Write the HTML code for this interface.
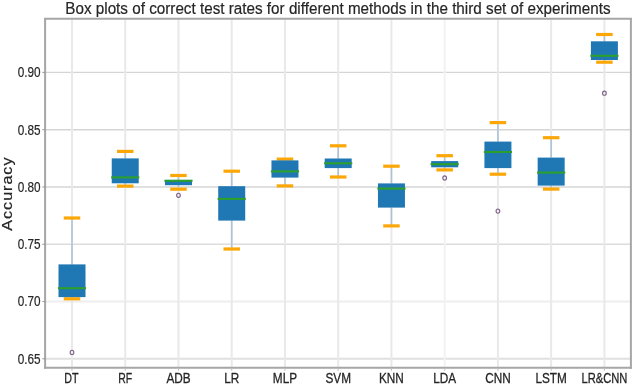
<!DOCTYPE html>
<html><head><meta charset="utf-8"><style>
html,body{margin:0;padding:0;background:#fff;width:633px;height:386px;overflow:hidden}
svg{display:block;will-change:transform}
text{font-family:"Liberation Sans",sans-serif;fill:#262626;stroke:#262626;stroke-width:0.2px}
</style></head><body>
<svg width="633" height="386" viewBox="0 0 633 386">
<rect width="633" height="386" fill="#fff"/>
<line x1="45.4" y1="358.80" x2="630.4" y2="358.80" stroke="#e0e0e0" stroke-width="2.0"/>
<line x1="45.4" y1="301.52" x2="630.4" y2="301.52" stroke="#eeeeee" stroke-width="1.8"/>
<line x1="45.4" y1="244.24" x2="630.4" y2="244.24" stroke="#dcdcdc" stroke-width="1.6"/>
<line x1="45.4" y1="186.96" x2="630.4" y2="186.96" stroke="#e0e0e0" stroke-width="2.0"/>
<line x1="45.4" y1="129.68" x2="630.4" y2="129.68" stroke="#d5d5d5" stroke-width="1.4"/>
<line x1="45.4" y1="72.40" x2="630.4" y2="72.40" stroke="#d5d5d5" stroke-width="1.4"/>
<line x1="72.00" y1="18.8" x2="72.00" y2="367.8" stroke="#e9e9e9" stroke-width="2.0"/>
<line x1="125.24" y1="18.8" x2="125.24" y2="367.8" stroke="#e9e9e9" stroke-width="2.0"/>
<line x1="178.48" y1="18.8" x2="178.48" y2="367.8" stroke="#e9e9e9" stroke-width="2.0"/>
<line x1="231.72" y1="18.8" x2="231.72" y2="367.8" stroke="#e9e9e9" stroke-width="2.0"/>
<line x1="284.96" y1="18.8" x2="284.96" y2="367.8" stroke="#e9e9e9" stroke-width="2.0"/>
<line x1="338.20" y1="18.8" x2="338.20" y2="367.8" stroke="#e9e9e9" stroke-width="2.0"/>
<line x1="391.44" y1="18.8" x2="391.44" y2="367.8" stroke="#e9e9e9" stroke-width="2.0"/>
<line x1="444.68" y1="18.8" x2="444.68" y2="367.8" stroke="#f2f2f2" stroke-width="2.0"/>
<line x1="497.92" y1="18.8" x2="497.92" y2="367.8" stroke="#e9e9e9" stroke-width="2.0"/>
<line x1="551.16" y1="18.8" x2="551.16" y2="367.8" stroke="#e9e9e9" stroke-width="2.0"/>
<line x1="604.40" y1="18.8" x2="604.40" y2="367.8" stroke="#e9e9e9" stroke-width="2.0"/>
<line x1="72.00" y1="218.00" x2="72.00" y2="264.40" stroke="#aec3d7" stroke-width="1.6"/>
<line x1="72.00" y1="297.10" x2="72.00" y2="298.80" stroke="#aec3d7" stroke-width="1.6"/>
<line x1="65.35" y1="218.00" x2="78.65" y2="218.00" stroke="#fca708" stroke-width="3.2" stroke-linecap="square"/>
<line x1="65.35" y1="298.80" x2="78.65" y2="298.80" stroke="#fca708" stroke-width="3.2" stroke-linecap="square"/>
<rect x="58.50" y="264.40" width="27.0" height="32.70" fill="#1f77b4"/>
<line x1="57.90" y1="288.20" x2="86.10" y2="288.20" stroke="#2ca02c" stroke-width="2.1"/>
<ellipse cx="72.00" cy="352.40" rx="1.85" ry="2.1" fill="#f3ecf3" stroke="#7a6485" stroke-width="1.1"/>
<line x1="125.24" y1="151.40" x2="125.24" y2="158.40" stroke="#aec3d7" stroke-width="1.6"/>
<line x1="125.24" y1="183.30" x2="125.24" y2="186.10" stroke="#aec3d7" stroke-width="1.6"/>
<line x1="118.59" y1="151.40" x2="131.89" y2="151.40" stroke="#fca708" stroke-width="3.2" stroke-linecap="square"/>
<line x1="118.59" y1="186.10" x2="131.89" y2="186.10" stroke="#fca708" stroke-width="3.2" stroke-linecap="square"/>
<rect x="111.74" y="158.40" width="27.0" height="24.90" fill="#1f77b4"/>
<line x1="111.14" y1="177.40" x2="139.34" y2="177.40" stroke="#2ca02c" stroke-width="2.1"/>
<line x1="178.48" y1="175.50" x2="178.48" y2="179.90" stroke="#aec3d7" stroke-width="1.6"/>
<line x1="178.48" y1="185.20" x2="178.48" y2="189.20" stroke="#aec3d7" stroke-width="1.6"/>
<line x1="171.83" y1="175.50" x2="185.13" y2="175.50" stroke="#fca708" stroke-width="3.2" stroke-linecap="square"/>
<line x1="171.83" y1="189.20" x2="185.13" y2="189.20" stroke="#fca708" stroke-width="3.2" stroke-linecap="square"/>
<rect x="164.98" y="179.90" width="27.0" height="5.30" fill="#1f77b4"/>
<line x1="164.38" y1="180.80" x2="192.58" y2="180.80" stroke="#2ca02c" stroke-width="2.1"/>
<ellipse cx="178.48" cy="195.30" rx="1.85" ry="2.1" fill="#f3ecf3" stroke="#7a6485" stroke-width="1.1"/>
<line x1="231.72" y1="171.20" x2="231.72" y2="186.20" stroke="#aec3d7" stroke-width="1.6"/>
<line x1="231.72" y1="220.60" x2="231.72" y2="249.00" stroke="#aec3d7" stroke-width="1.6"/>
<line x1="225.07" y1="171.20" x2="238.37" y2="171.20" stroke="#fca708" stroke-width="3.2" stroke-linecap="square"/>
<line x1="225.07" y1="249.00" x2="238.37" y2="249.00" stroke="#fca708" stroke-width="3.2" stroke-linecap="square"/>
<rect x="218.22" y="186.20" width="27.0" height="34.40" fill="#1f77b4"/>
<line x1="217.62" y1="198.90" x2="245.82" y2="198.90" stroke="#2ca02c" stroke-width="2.1"/>
<line x1="284.96" y1="159.10" x2="284.96" y2="160.40" stroke="#aec3d7" stroke-width="1.6"/>
<line x1="284.96" y1="177.60" x2="284.96" y2="185.90" stroke="#aec3d7" stroke-width="1.6"/>
<line x1="278.31" y1="159.10" x2="291.61" y2="159.10" stroke="#fca708" stroke-width="3.2" stroke-linecap="square"/>
<line x1="278.31" y1="185.90" x2="291.61" y2="185.90" stroke="#fca708" stroke-width="3.2" stroke-linecap="square"/>
<rect x="271.46" y="160.40" width="27.0" height="17.20" fill="#1f77b4"/>
<line x1="270.86" y1="171.40" x2="299.06" y2="171.40" stroke="#2ca02c" stroke-width="2.1"/>
<line x1="338.20" y1="145.80" x2="338.20" y2="158.50" stroke="#aec3d7" stroke-width="1.6"/>
<line x1="338.20" y1="168.10" x2="338.20" y2="177.00" stroke="#aec3d7" stroke-width="1.6"/>
<line x1="331.55" y1="145.80" x2="344.85" y2="145.80" stroke="#fca708" stroke-width="3.2" stroke-linecap="square"/>
<line x1="331.55" y1="177.00" x2="344.85" y2="177.00" stroke="#fca708" stroke-width="3.2" stroke-linecap="square"/>
<rect x="324.70" y="158.50" width="27.0" height="9.60" fill="#1f77b4"/>
<line x1="324.10" y1="163.30" x2="352.30" y2="163.30" stroke="#2ca02c" stroke-width="2.1"/>
<line x1="391.44" y1="166.20" x2="391.44" y2="183.40" stroke="#aec3d7" stroke-width="1.6"/>
<line x1="391.44" y1="207.60" x2="391.44" y2="225.90" stroke="#aec3d7" stroke-width="1.6"/>
<line x1="384.79" y1="166.20" x2="398.09" y2="166.20" stroke="#fca708" stroke-width="3.2" stroke-linecap="square"/>
<line x1="384.79" y1="225.90" x2="398.09" y2="225.90" stroke="#fca708" stroke-width="3.2" stroke-linecap="square"/>
<rect x="377.94" y="183.40" width="27.0" height="24.20" fill="#1f77b4"/>
<line x1="377.34" y1="188.60" x2="405.54" y2="188.60" stroke="#2ca02c" stroke-width="2.1"/>
<line x1="444.68" y1="155.70" x2="444.68" y2="161.10" stroke="#aec3d7" stroke-width="1.6"/>
<line x1="444.68" y1="167.30" x2="444.68" y2="169.90" stroke="#aec3d7" stroke-width="1.6"/>
<line x1="438.03" y1="155.70" x2="451.33" y2="155.70" stroke="#fca708" stroke-width="3.2" stroke-linecap="square"/>
<line x1="438.03" y1="169.90" x2="451.33" y2="169.90" stroke="#fca708" stroke-width="3.2" stroke-linecap="square"/>
<rect x="431.18" y="161.10" width="27.0" height="6.20" fill="#1f77b4"/>
<line x1="430.58" y1="164.20" x2="458.78" y2="164.20" stroke="#2ca02c" stroke-width="2.1"/>
<ellipse cx="444.68" cy="178.00" rx="1.85" ry="2.1" fill="#f3ecf3" stroke="#7a6485" stroke-width="1.1"/>
<line x1="497.92" y1="122.60" x2="497.92" y2="141.60" stroke="#aec3d7" stroke-width="1.6"/>
<line x1="497.92" y1="168.10" x2="497.92" y2="174.20" stroke="#aec3d7" stroke-width="1.6"/>
<line x1="491.27" y1="122.60" x2="504.57" y2="122.60" stroke="#fca708" stroke-width="3.2" stroke-linecap="square"/>
<line x1="491.27" y1="174.20" x2="504.57" y2="174.20" stroke="#fca708" stroke-width="3.2" stroke-linecap="square"/>
<rect x="484.42" y="141.60" width="27.0" height="26.50" fill="#1f77b4"/>
<line x1="483.82" y1="152.00" x2="512.02" y2="152.00" stroke="#2ca02c" stroke-width="2.1"/>
<ellipse cx="497.92" cy="211.10" rx="1.85" ry="2.1" fill="#f3ecf3" stroke="#7a6485" stroke-width="1.1"/>
<line x1="551.16" y1="137.70" x2="551.16" y2="157.60" stroke="#aec3d7" stroke-width="1.6"/>
<line x1="551.16" y1="185.60" x2="551.16" y2="189.10" stroke="#aec3d7" stroke-width="1.6"/>
<line x1="544.51" y1="137.70" x2="557.81" y2="137.70" stroke="#fca708" stroke-width="3.2" stroke-linecap="square"/>
<line x1="544.51" y1="189.10" x2="557.81" y2="189.10" stroke="#fca708" stroke-width="3.2" stroke-linecap="square"/>
<rect x="537.66" y="157.60" width="27.0" height="28.00" fill="#1f77b4"/>
<line x1="537.06" y1="172.60" x2="565.26" y2="172.60" stroke="#2ca02c" stroke-width="2.1"/>
<line x1="604.40" y1="34.50" x2="604.40" y2="41.30" stroke="#aec3d7" stroke-width="1.6"/>
<line x1="604.40" y1="60.00" x2="604.40" y2="62.20" stroke="#aec3d7" stroke-width="1.6"/>
<line x1="597.75" y1="34.50" x2="611.05" y2="34.50" stroke="#fca708" stroke-width="3.2" stroke-linecap="square"/>
<line x1="597.75" y1="62.20" x2="611.05" y2="62.20" stroke="#fca708" stroke-width="3.2" stroke-linecap="square"/>
<rect x="590.90" y="41.30" width="27.0" height="18.70" fill="#1f77b4"/>
<line x1="590.30" y1="55.80" x2="618.50" y2="55.80" stroke="#2ca02c" stroke-width="2.1"/>
<ellipse cx="604.40" cy="93.20" rx="1.85" ry="2.1" fill="#f3ecf3" stroke="#7a6485" stroke-width="1.1"/>
<line x1="45.1" y1="17.900000000000002" x2="45.1" y2="368.7" stroke="#a6a6a6" stroke-width="2.0"/>
<line x1="630.9" y1="17.900000000000002" x2="630.9" y2="368.7" stroke="#a6a6a6" stroke-width="2.0"/>
<line x1="44.1" y1="18.8" x2="631.9" y2="18.8" stroke="#a6a6a6" stroke-width="1.9"/>
<line x1="44.1" y1="367.8" x2="631.9" y2="367.8" stroke="#a6a6a6" stroke-width="1.9"/>
<line x1="42.4" y1="358.80" x2="45.4" y2="358.80" stroke="#9a9a9a" stroke-width="1.1"/>
<line x1="42.4" y1="301.52" x2="45.4" y2="301.52" stroke="#9a9a9a" stroke-width="1.1"/>
<line x1="42.4" y1="244.24" x2="45.4" y2="244.24" stroke="#9a9a9a" stroke-width="1.1"/>
<line x1="42.4" y1="186.96" x2="45.4" y2="186.96" stroke="#9a9a9a" stroke-width="1.1"/>
<line x1="42.4" y1="129.68" x2="45.4" y2="129.68" stroke="#9a9a9a" stroke-width="1.1"/>
<line x1="42.4" y1="72.40" x2="45.4" y2="72.40" stroke="#9a9a9a" stroke-width="1.1"/>
<line x1="72.00" y1="367.8" x2="72.00" y2="370.8" stroke="#c0c0c0" stroke-width="1.1"/>
<line x1="125.24" y1="367.8" x2="125.24" y2="370.8" stroke="#c0c0c0" stroke-width="1.1"/>
<line x1="178.48" y1="367.8" x2="178.48" y2="370.8" stroke="#c0c0c0" stroke-width="1.1"/>
<line x1="231.72" y1="367.8" x2="231.72" y2="370.8" stroke="#c0c0c0" stroke-width="1.1"/>
<line x1="284.96" y1="367.8" x2="284.96" y2="370.8" stroke="#c0c0c0" stroke-width="1.1"/>
<line x1="338.20" y1="367.8" x2="338.20" y2="370.8" stroke="#c0c0c0" stroke-width="1.1"/>
<line x1="391.44" y1="367.8" x2="391.44" y2="370.8" stroke="#c0c0c0" stroke-width="1.1"/>
<line x1="444.68" y1="367.8" x2="444.68" y2="370.8" stroke="#c0c0c0" stroke-width="1.1"/>
<line x1="497.92" y1="367.8" x2="497.92" y2="370.8" stroke="#c0c0c0" stroke-width="1.1"/>
<line x1="551.16" y1="367.8" x2="551.16" y2="370.8" stroke="#c0c0c0" stroke-width="1.1"/>
<line x1="604.40" y1="367.8" x2="604.40" y2="370.8" stroke="#c0c0c0" stroke-width="1.1"/>
<text x="0" y="0" transform="translate(40.6 363.75) scale(0.785 1)" text-anchor="end" font-size="15.0">0.65</text>
<text x="0" y="0" transform="translate(40.6 306.47) scale(0.785 1)" text-anchor="end" font-size="15.0">0.70</text>
<text x="0" y="0" transform="translate(40.6 249.19) scale(0.785 1)" text-anchor="end" font-size="15.0">0.75</text>
<text x="0" y="0" transform="translate(40.6 191.91) scale(0.785 1)" text-anchor="end" font-size="15.0">0.80</text>
<text x="0" y="0" transform="translate(40.6 134.63) scale(0.785 1)" text-anchor="end" font-size="15.0">0.85</text>
<text x="0" y="0" transform="translate(40.6 77.35) scale(0.785 1)" text-anchor="end" font-size="15.0">0.90</text>
<text x="0" y="0" transform="translate(71.30 382.9) scale(0.744 1)" text-anchor="middle" font-size="14.4" style="stroke-width:0.3px">DT</text>
<text x="0" y="0" transform="translate(125.24 382.9) scale(0.728 1)" text-anchor="middle" font-size="14.4" style="stroke-width:0.3px">RF</text>
<text x="0" y="0" transform="translate(178.48 382.9) scale(0.818 1)" text-anchor="middle" font-size="14.4" style="stroke-width:0.3px">ADB</text>
<text x="0" y="0" transform="translate(231.72 382.9) scale(0.818 1)" text-anchor="middle" font-size="14.4" style="stroke-width:0.3px">LR</text>
<text x="0" y="0" transform="translate(284.96 382.9) scale(0.818 1)" text-anchor="middle" font-size="14.4" style="stroke-width:0.3px">MLP</text>
<text x="0" y="0" transform="translate(338.20 382.9) scale(0.818 1)" text-anchor="middle" font-size="14.4" style="stroke-width:0.3px">SVM</text>
<text x="0" y="0" transform="translate(391.44 382.9) scale(0.818 1)" text-anchor="middle" font-size="14.4" style="stroke-width:0.3px">KNN</text>
<text x="0" y="0" transform="translate(444.68 382.9) scale(0.818 1)" text-anchor="middle" font-size="14.4" style="stroke-width:0.3px">LDA</text>
<text x="0" y="0" transform="translate(497.92 382.9) scale(0.818 1)" text-anchor="middle" font-size="14.4" style="stroke-width:0.3px">CNN</text>
<text x="0" y="0" transform="translate(551.16 382.9) scale(0.818 1)" text-anchor="middle" font-size="14.4" style="stroke-width:0.3px">LSTM</text>
<text x="0" y="0" transform="translate(604.40 382.9) scale(0.777 1)" text-anchor="middle" font-size="14.4" style="stroke-width:0.3px">LR&amp;CNN</text>
<text id="title" x="0" y="0" transform="translate(337.9 13.7) scale(0.908 1)" text-anchor="middle" font-size="16.8">Box plots of correct test rates for different methods in the third set of experiments</text>
<text id="ylab" x="0" y="0" transform="translate(11.8 193.6) rotate(-90) scale(1.13 1)" text-anchor="middle" font-size="14.2" letter-spacing="0.9">Accuracy</text>
</svg>
</body></html>
